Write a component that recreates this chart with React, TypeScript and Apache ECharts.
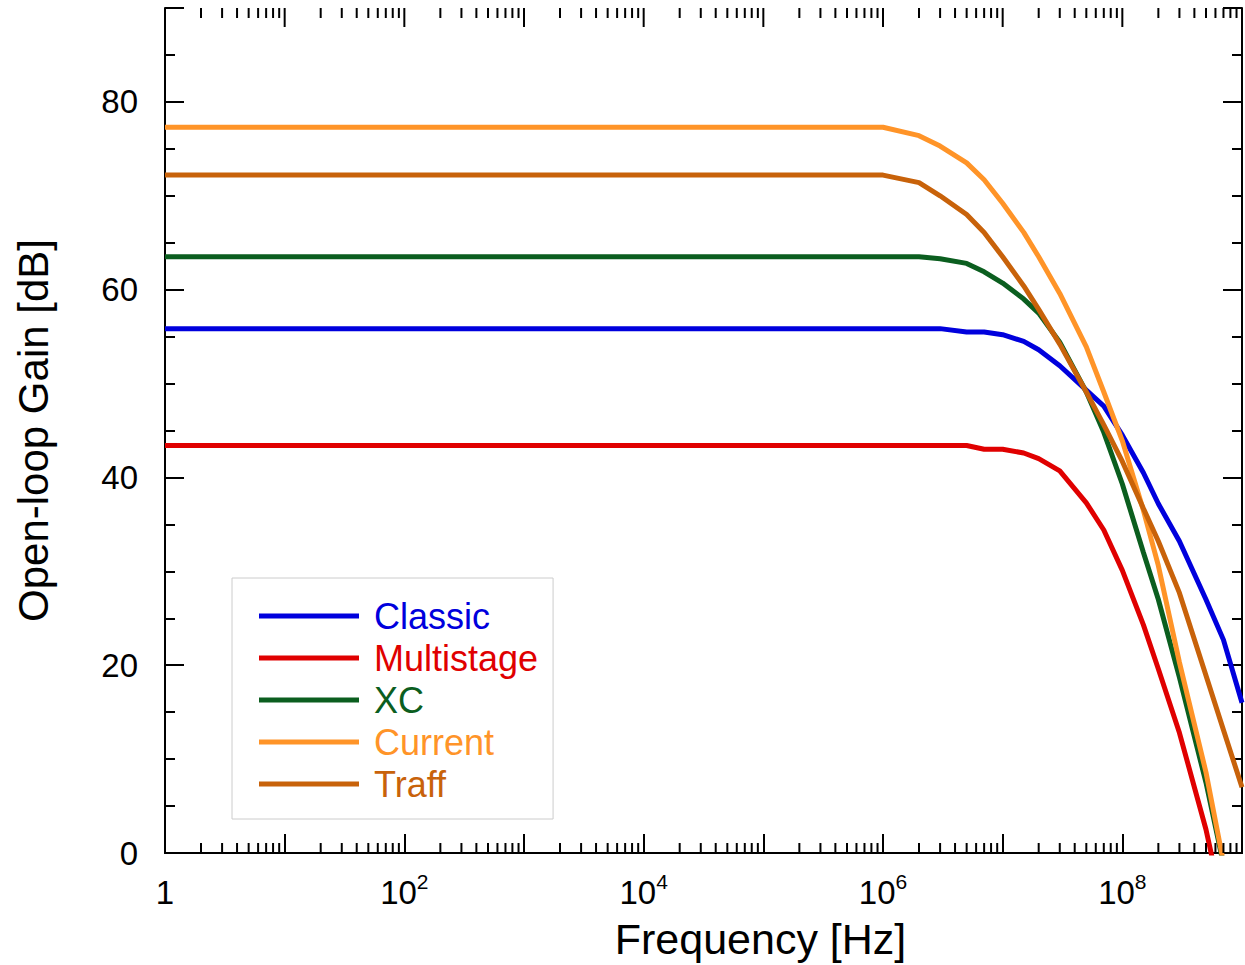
import React, { useEffect, useRef } from "react";
import * as echarts from "echarts";

// Frequency grid [Hz]
const freqHz = [1, 1e6, 2e6, 3e6, 5e6, 7e6, 1e7, 1.5e7, 2e7, 3e7, 5e7, 7e7, 1e8, 1.5e8, 2e8, 3e8, 5e8, 7e8, 1e9];

// Open-loop gain [dB]
const classic = [55.85, 55.85, 55.85, 55.85, 55.5, 55.5, 55.2, 54.5, 53.6, 51.9, 49.3, 47.6, 44.5, 40.5, 37.2, 33.2, 27.0, 22.7, 16.0];
const multistage = [43.4, 43.4, 43.4, 43.4, 43.4, 43.0, 43.0, 42.6, 42.0, 40.7, 37.3, 34.4, 30.1, 24.3, 19.6, 12.8, 2.5, -6, -15];
const xc = [63.5, 63.5, 63.5, 63.3, 62.8, 61.9, 60.7, 59.0, 57.5, 54.4, 49.1, 44.8, 39.3, 32.0, 27.0, 18.7, 7.5, -1.2, -10];
const current = [77.3, 77.3, 76.4, 75.3, 73.5, 71.7, 69.2, 66.1, 63.5, 59.6, 53.9, 49.1, 43.9, 36.5, 30.6, 20.3, 8.6, -1.0, -10];
const traff = [72.2, 72.2, 71.4, 70.0, 68.0, 66.1, 63.5, 60.4, 57.9, 54.2, 49.1, 45.6, 41.7, 36.7, 33.2, 27.7, 18.9, 13.1, 7.0];

const seriesNames = ["Classic", "Multistage", "XC", "Current", "Traff"];
const seriesColors = ["#0000dd", "#e00000", "#0b5e1f", "#ff9428", "#c8620a"];
const seriesValues = [classic, multistage, xc, current, traff];

// Axis settings
const xMin = 1;
const xMax = 1e9;
const yMin = 0;
const yMax = 90;
const yMajor = 20;
const yMinor = 5;
const minorMultipliers = [2, 3, 4, 5, 6, 7, 8, 9];
const decadeExponents = [0, 1, 2, 3, 4, 5, 6, 7, 8];
const topDecadeExponents = [1, 2, 3, 4, 5, 6, 7, 8];

const FONT = "'Liberation Sans', Arial, Helvetica, sans-serif";

export default function App() {
  const ref = useRef<HTMLDivElement>(null);

  useEffect(() => {
    if (!ref.current) return;
    const chart = echarts.init(ref.current, undefined, { renderer: "svg" });

    const minorTicks: number[][] = [];
    decadeExponents.forEach((e) => {
      minorMultipliers.forEach((m) => minorTicks.push([m * Math.pow(10, e), yMin]));
    });
    const topMajorTicks: number[][] = topDecadeExponents.map((e) => [Math.pow(10, e), yMax]);

    const axisLineStyle = { color: "#000", width: 2 };

    const lineSeries = seriesNames.map((name, i) => ({
      name,
      type: "line",
      xAxisIndex: 0,
      yAxisIndex: 0,
      data: freqHz.map((f, k) => [f, seriesValues[i][k]]),
      showSymbol: false,
      symbol: "none",
      lineStyle: { color: seriesColors[i], width: 5 },
      itemStyle: { color: seriesColors[i] },
      clip: true,
      z: 3,
    }));

    const tickSeries = (name: string, data: number[][], len: number, both: boolean) => ({
      type: "custom",
      name,
      xAxisIndex: 0,
      yAxisIndex: 0,
      silent: true,
      clip: false,
      z: 5,
      data,
      renderItem: (params: any, api: any) => {
        const f = api.value(0);
        const pb = api.coord([f, yMin]);
        const pt = api.coord([f, yMax]);
        const style = { stroke: "#000", lineWidth: 2 };
        const children: any[] = [
          { type: "line", shape: { x1: pt[0], y1: pt[1], x2: pt[0], y2: pt[1] + len }, style },
        ];
        if (both) {
          children.push({ type: "line", shape: { x1: pb[0], y1: pb[1], x2: pb[0], y2: pb[1] - len }, style });
        }
        return { type: "group", children };
      },
    });

    const option: any = {
      animation: false,
      backgroundColor: "#fff",
      textStyle: { fontFamily: FONT },
      grid: { left: 165, right: 2, top: 8, bottom: 107, containLabel: false },
      legend: {
        orient: "vertical",
        left: 232,
        top: 578,
        padding: [20, 15, 17, 27],
        borderColor: "#cccccc",
        borderWidth: 1,
        backgroundColor: "#fff",
        itemWidth: 100,
        itemHeight: 5,
        itemGap: 6,
        icon: "rect",
        textStyle: { fontSize: 36, lineHeight: 36, fontFamily: FONT, padding: [0, 0, 0, 10] },
        data: seriesNames.map((n, i) => ({ name: n, textStyle: { color: seriesColors[i] } })),
      },
      xAxis: [
        {
          type: "log",
          logBase: 10,
          min: xMin,
          max: xMax,
          position: "bottom",
          name: "Frequency [Hz]",
          nameLocation: "middle",
          nameGap: 64,
          nameTextStyle: { fontSize: 43, color: "#000", fontFamily: FONT, padding: [0, 0, 0, 114] },
          axisLine: { show: true, lineStyle: axisLineStyle },
          axisTick: { show: true, inside: true, length: 19, lineStyle: axisLineStyle },
          splitLine: { show: false },
          axisLabel: {
            margin: 18,
            color: "#000",
            fontFamily: FONT,
            formatter: (v: number) => {
              const e = Math.round(Math.log10(v));
              if (e % 2 !== 0) return "";
              if (e === 0) return "{b|1}";
              return "{b|10}{s|" + e + "}";
            },
            rich: {
              b: { fontSize: 33, lineHeight: 42, color: "#000", fontFamily: FONT },
              s: { fontSize: 21, lineHeight: 21, verticalAlign: "top", color: "#000", fontFamily: FONT },
            },
          },
        },
        {
          type: "log",
          logBase: 10,
          min: xMin,
          max: xMax,
          position: "top",
          axisLine: { show: true, lineStyle: axisLineStyle },
          axisTick: { show: false },
          axisLabel: { show: false },
          splitLine: { show: false },
        },
      ],
      yAxis: [
        {
          type: "value",
          min: yMin,
          max: yMax,
          interval: yMajor,
          position: "left",
          name: "Open-loop Gain [dB]",
          nameLocation: "middle",
          nameGap: 111,
          nameTextStyle: { fontSize: 42, color: "#000", fontFamily: FONT },
          axisLine: { show: true, lineStyle: axisLineStyle },
          axisTick: { show: true, inside: true, length: 19, lineStyle: axisLineStyle },
          splitLine: { show: false },
          axisLabel: {
            margin: 27,
            fontSize: 33,
            color: "#000",
            fontFamily: FONT,
            formatter: (v: number) => (v % yMajor === 0 ? String(v) : ""),
          },
        },
        {
          type: "value",
          min: yMin,
          max: yMax,
          interval: yMinor,
          position: "left",
          axisLine: { show: false },
          axisTick: { show: true, inside: true, length: 10, lineStyle: axisLineStyle },
          axisLabel: { show: false },
          splitLine: { show: false },
        },
        {
          type: "value",
          min: yMin,
          max: yMax,
          interval: yMajor,
          position: "right",
          axisLine: { show: true, lineStyle: axisLineStyle },
          axisTick: { show: true, inside: true, length: 19, lineStyle: axisLineStyle },
          axisLabel: { show: false },
          splitLine: { show: false },
        },
        {
          type: "value",
          min: yMin,
          max: yMax,
          interval: yMinor,
          position: "right",
          axisLine: { show: false },
          axisTick: { show: true, inside: true, length: 10, lineStyle: axisLineStyle },
          axisLabel: { show: false },
          splitLine: { show: false },
        },
      ],
      series: [
        ...lineSeries,
        tickSeries("minorTicks", minorTicks, 10, true),
        tickSeries("topMajorTicks", topMajorTicks, 19, false),
      ],
    };

    chart.setOption(option);
    return () => chart.dispose();
  }, []);

  return (
    <div
      ref={ref}
      style={{ position: "fixed", left: 0, top: 0, width: 1245, height: 965, background: "#fff" }}
    />
  );
}
